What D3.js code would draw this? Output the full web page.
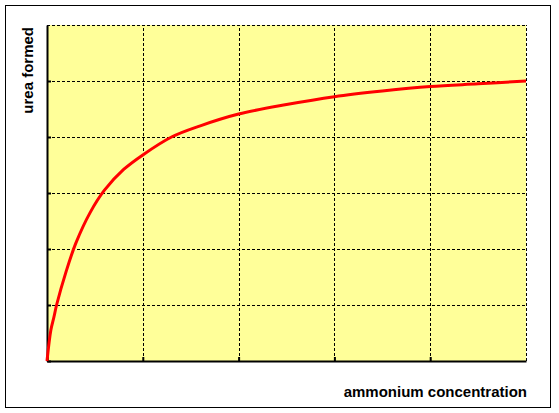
<!DOCTYPE html>
<html>
<head>
<meta charset="utf-8">
<script src="https://cdn.jsdelivr.net/npm/d3@7"></script>
<style>
    body { margin: 0; background: white; }
    svg { display: block; font-family: "Liberation Sans", Arial, sans-serif; }
</style>
</head>
<body>
<div id="container"></div>
<script>
// ammonium concentration (x) vs urea formed (y)
const concentration = [0, 0.04, 0.073, 0.1, 0.2, 0.3, 0.45, 0.6, 0.8, 1.0, 1.3, 1.6, 2.0, 2.5, 3.0, 3.5, 4.0, 4.5, 5.0]
const urea = [0, 0.55, 0.79, 1.0, 1.6, 2.1, 2.65, 3.05, 3.42, 3.68, 4.0, 4.2, 4.41, 4.58, 4.72, 4.82, 4.9, 4.95, 5.0]
const xTicks = [0, 1, 2, 3, 4, 5]
const yTicks = [0, 1, 2, 3, 4, 5, 6]
const xLabel = "ammonium concentration"
const yLabel = "urea formed"

const w = 559
const h = 413

const svg = d3.select("#container")
    .append("svg")
    .attr("width", w)
    .attr("height", h)

// outer frame
svg.append("rect")
    .attr("x", 5.5)
    .attr("y", 5.5)
    .attr("width", 545)
    .attr("height", 402)
    .attr("fill", "white")
    .attr("stroke", "black")
    .attr("stroke-width", 1)

const xScale = d3.scaleLinear()
    .domain([0, 5])
    .range([47, 526])
const yScale = d3.scaleLinear()
    .domain([0, 6])
    .range([361, 25])

svg.append("rect")
    .attr("x", xScale(0))
    .attr("y", yScale(6))
    .attr("width", xScale(5) - xScale(0))
    .attr("height", yScale(0) - yScale(6))
    .attr("fill", "#ffff99")

// dashed grid
svg.append("g")
    .selectAll("line")
    .data(xTicks.slice(1))
    .join("line")
    .attr("x1", (d) => Math.round(xScale(d)) + 0.5)
    .attr("x2", (d) => Math.round(xScale(d)) + 0.5)
    .attr("y1", yScale(0))
    .attr("y2", yScale(6))
    .attr("stroke", "black")
    .attr("stroke-dasharray", "3,2")
svg.append("g")
    .selectAll("line")
    .data(yTicks.slice(1))
    .join("line")
    .attr("x1", xScale(0))
    .attr("x2", xScale(5))
    .attr("y1", (d) => Math.round(yScale(d)) + 0.5)
    .attr("y2", (d) => Math.round(yScale(d)) + 0.5)
    .attr("stroke", "black")
    .attr("stroke-dasharray", "3,2")

const xAxis = d3.axisBottom(xScale)
    .tickValues(xTicks.slice(0, -1))
    .tickSizeInner(-4)
    .tickSizeOuter(0)
    .tickFormat("")
const yAxis = d3.axisLeft(yScale)
    .tickValues(yTicks.slice(0, -1))
    .tickSizeInner(-4)
    .tickSizeOuter(0)
    .tickFormat("")

svg.append("g")
    .attr("transform", `translate(0, ${yScale(0)})`)
    .call(xAxis)
    .call((g) => g.selectAll("path, line").attr("stroke-width", 2))
svg.append("g")
    .attr("transform", `translate(${xScale(0)}, 0)`)
    .call(yAxis)
    .call((g) => g.selectAll("path, line").attr("stroke-width", 2))

const line = d3.line()
    .x((d) => xScale(d[0]))
    .y((d) => yScale(d[1]))
    .curve(d3.curveCatmullRom.alpha(0.5))

svg.append("path")
    .datum(d3.zip(concentration, urea))
    .attr("d", line)
    .attr("fill", "none")
    .attr("stroke", "#ff0000")
    .attr("stroke-width", 3)

svg.append("text")
    .text(xLabel)
    .attr("x", 527)
    .attr("y", 397)
    .attr("text-anchor", "end")
    .style("font-size", "15px")
    .style("font-weight", "bold")
svg.append("text")
    .text(yLabel)
    .attr("text-anchor", "end")
    .attr("transform", "translate(33, 27) rotate(-90)")
    .style("font-size", "15px")
    .style("font-weight", "bold")
</script>
</body>
</html>
